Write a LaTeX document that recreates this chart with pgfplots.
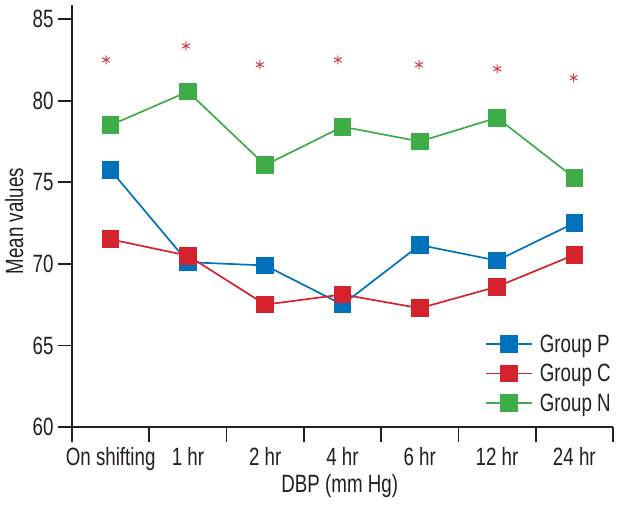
\documentclass[border=0pt]{standalone}
\usepackage{fontspec}
\setmainfont{Liberation Sans}[FakeStretch=0.75]
\usepackage{pgfplots}
\pgfplotsset{compat=1.18}
\definecolor{cP}{RGB}{0,114,188}
\definecolor{cC}{RGB}{213,35,46}
\definecolor{cN}{RGB}{62,173,72}
\definecolor{astc}{RGB}{212,60,80}
\definecolor{axisc}{RGB}{35,31,32}
\begin{document}
\begin{tikzpicture}
\begin{axis}[name=ax,
 scale only axis, width=541pt, height=422pt,
 xmin=-0.5, xmax=6.5, ymin=60, ymax=85.86,
 axis x line=bottom, axis y line=left,
 axis line style={line width=1.8pt, color=axisc, -},
 xtick={0,...,6},
 xticklabels={On shifting,1 hr,2 hr,4 hr,6 hr,12 hr,24 hr},
 major x tick style={draw=none},
 minor xtick={-0.5,0.5,...,6.5},
 minor tick length=15pt,
 minor x tick style={line width=1.8pt, color=axisc},
 ytick={60,65,...,85},
 major tick length=14pt,
 tick align=outside,
 y tick style={line width=1.8pt, color=axisc},
 font=\fontsize{25}{29}\selectfont,
 tick label style={font=\fontsize{25}{29}\selectfont, text=axisc},
 /pgf/number format/assume math mode=true,
 xticklabel style={yshift=-3pt},
 yticklabel style={xshift=-1pt},
 ylabel={Mean values},
 ylabel style={at={(axis description cs:-0.107,0.488)}, anchor=center, text=axisc},
 xlabel={DBP (mm Hg)},
 xlabel style={at={(axis description cs:0.495,-0.14)}, anchor=center, text=axisc},
 legend style={at={(axis description cs:0.7634,0.224)}, anchor=north west, draw=none, fill=none,
   font=\fontsize{25}{29}\selectfont, inner sep=0pt, row sep=6.5pt, column sep=5pt, text=axisc},
 legend cell align=left,
 legend image code/.code={\draw[mark repeat=2,mark phase=2] plot coordinates {(0pt,0pt) (23pt,0pt) (46pt,0pt)};},
 every axis plot/.append style={line width=1.7pt},
 clip=false,
]
\addplot[color=cP, mark=square*, mark size=8pt, mark options={solid}] coordinates {
 (0,75.74) (1,70.1) (2,69.9) (3,67.5) (4,71.15) (5,70.2) (6,72.5)};
\addlegendentry{Group P}
\addplot[color=cC, mark=square*, mark size=8pt] coordinates {
 (0,71.5) (1,70.5) (2,67.5) (3,68.12) (4,67.28) (5,68.6) (6,70.55)};
\addlegendentry{Group C}
\addplot[color=cN, mark=square*, mark size=8pt] coordinates {
 (0,78.5) (1,80.55) (2,76.05) (3,78.4) (4,77.5) (5,78.95) (6,75.27)};
\addlegendentry{Group N}
\addplot[only marks, mark=asterisk, mark size=4.5pt, color=astc, line width=1pt, forget plot] coordinates {
 (-0.06,82.5) (0.975,83.35) (1.93,82.2) (2.94,82.5) (3.99,82.2) (5.0,81.95) (5.99,81.4)};
\end{axis}
\pgfresetboundingbox
\path (ax.south west) ++(-72pt,-79pt) rectangle ++(619pt,506pt);
\end{tikzpicture}
\end{document}
